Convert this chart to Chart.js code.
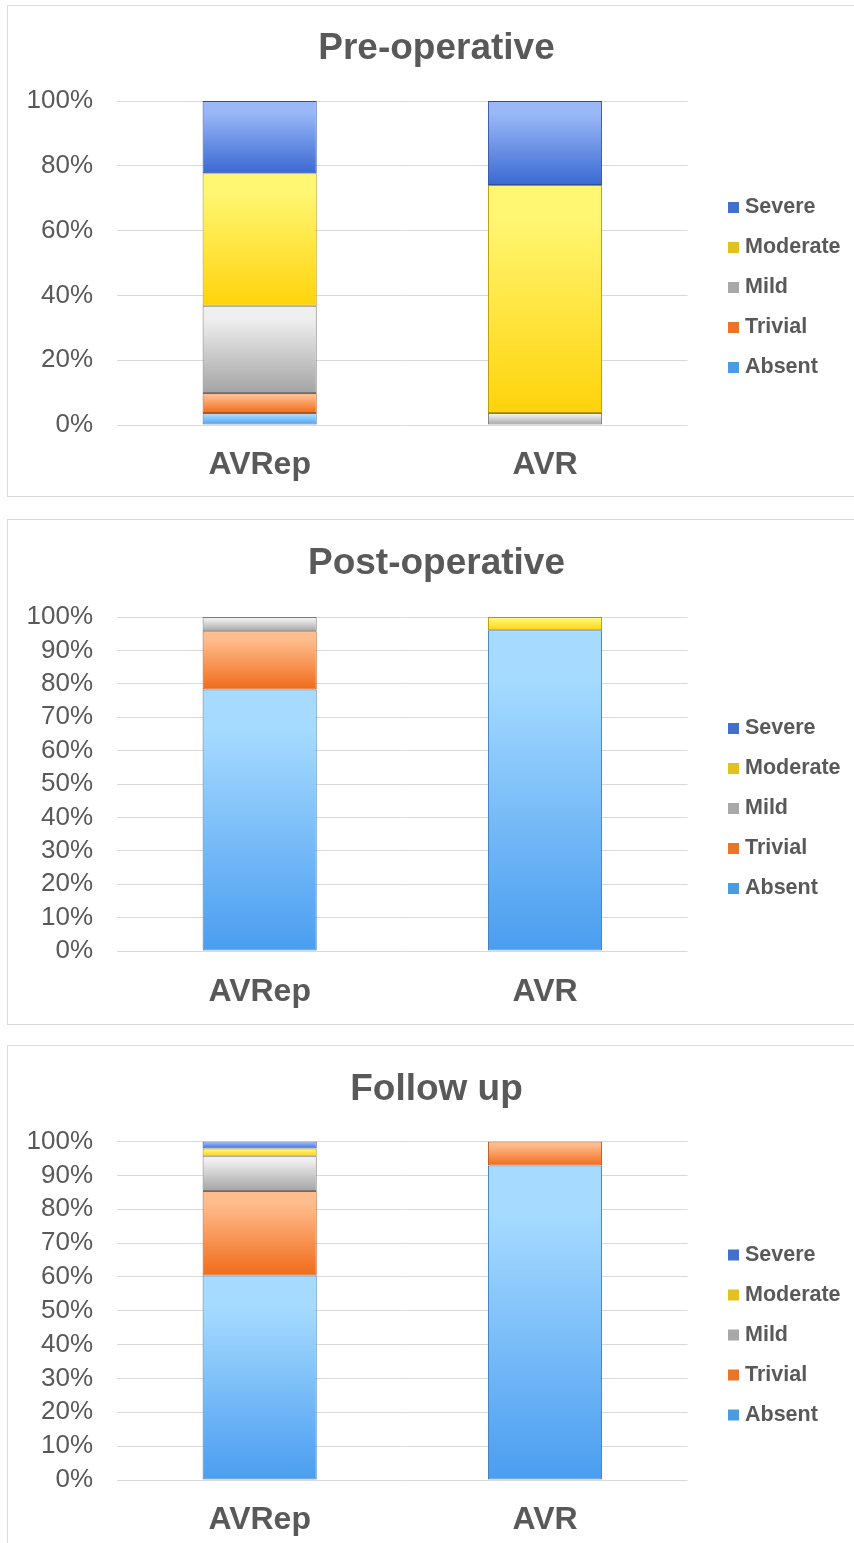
<!DOCTYPE html>
<html>
<head>
<meta charset="utf-8">
<title>AR grade before and after surgery</title>
<script src="https://cdn.jsdelivr.net/npm/chart.js"></script>
<style>
  body { margin: 0; background: #fff; width: 854px; height: 1543px; overflow: hidden; position: relative; }
  .panel { position: absolute; left: 7px; width: 870px; border: 1px solid #d9d9d9; background: #fff; }
  .panel canvas { position: absolute; left: -1px; top: -1px; }
</style>
</head>
<body>
<div class="panel" style="top:5px;height:490px"><canvas id="pre-chart" width="847" height="512"></canvas></div>
<div class="panel" style="top:519px;height:504px"><canvas id="post-chart" width="847" height="520"></canvas></div>
<div class="panel" style="top:1045px;height:518px"><canvas id="follow-chart" width="847" height="530"></canvas></div>
<script>
const categories = ["AVRep", "AVR"];
const grades = ["Absent", "Trivial", "Mild", "Moderate", "Severe"];

// pre-operative, % of patients [AVRep, AVR]
const preAbsent = [3.7, 0];
const preTrivial = [6.2, 0];
const preMild = [26.9, 3.7];
const preModerate = [40.9, 70.4];
const preSevere = [22.3, 25.9];

// post-operative
const postAbsent = [78.3, 96.0];
const postTrivial = [17.4, 0];
const postMild = [4.3, 0];
const postModerate = [0, 4.0];
const postSevere = [0, 0];

// follow up
const followAbsent = [60.4, 92.9];
const followTrivial = [25.0, 7.1];
const followMild = [10.4, 0];
const followModerate = [2.1, 0];
const followSevere = [2.1, 0];

const preTicks = [0, 20, 40, 60, 80, 100];
const postTicks = [0, 10, 20, 30, 40, 50, 60, 70, 80, 90, 100];
const followTicks = [0, 10, 20, 30, 40, 50, 60, 70, 80, 90, 100];

// colours per grade (Absent .. Severe)
const gradeTop = ["#a6dbff", "#ffbc8c", "#efefef", "#fff672", "#9ab8f8"];
const gradeBottom = ["#4a9df0", "#f06b1a", "#a4a4a4", "#ffd30a", "#3a69d2"];
const gradeEdge = ["#3b78ba", "#b5551a", "#7a7a7a", "#b39600", "#2d4fa0"];
const gradeKey = ["#4a9be0", "#ea742a", "#a8a8a8", "#e2c21e", "#4370cc"];

Chart.defaults.font.family = '"Liberation Sans", Arial, sans-serif';
Chart.defaults.color = "#595959";

// vertical gradient for every stacked segment, from the y scale
function shade(i) {
  return function (ctx) {
    const chart = ctx.chart;
    const y = chart.scales.y;
    if (ctx.type !== "data" || !y) return gradeBottom[i];
    let start = 0;
    for (let k = 0; k < ctx.datasetIndex; k++) start += chart.data.datasets[k].data[ctx.dataIndex];
    const end = start + ctx.raw;
    const y0 = y.getPixelForValue(start);
    const y1 = y.getPixelForValue(end);
    if (!isFinite(y0) || !isFinite(y1) || Math.abs(y0 - y1) < 0.5) return gradeBottom[i];
    const g = chart.ctx.createLinearGradient(0, y1, 0, y0);
    g.addColorStop(0, gradeTop[i]);
    g.addColorStop(0.15, gradeTop[i]);
    g.addColorStop(1, gradeBottom[i]);
    return g;
  };
}

// legend sits lower and further right than chart.js puts it, title a bit right
const boxShift = {
  id: "boxShift",
  afterLayout(chart, args, opts) {
    const lg = chart.legend;
    if (lg) {
      const dx = opts.boxX - (lg.left + lg.options.labels.padding);
      lg.left += dx; lg.right += dx;
      lg.top += opts.dy; lg.bottom += opts.dy;
    }
    const t = chart.titleBlock;
    if (t) {
      const tx = opts.titleX - (t.left + t.right) / 2;
      t.left += tx; t.right += tx;
    }
  }
};

function makeChart(id, title, series, ticks, f) {
  const canvas = document.getElementById(id);
  const xPad = f.label - f.bottom - 19.2 + 2;
  const tTop = f.title + 2 - 22.2;
  return new Chart(canvas, {
    type: "bar",
    data: {
      labels: categories,
      datasets: grades.map((g, i) => ({
        label: g,
        data: series[i],
        backgroundColor: shade(i),
        borderColor: gradeEdge[i],
        borderWidth: 1,
        borderSkipped: false,
        barPercentage: 0.4,
        categoryPercentage: 1
      }))
    },
    plugins: [boxShift],
    options: {
      responsive: false,
      animation: false,
      layout: { padding: { left: 0, right: 30, top: 0, bottom: canvas.height - f.bottom - 2 * xPad - 38.4 } },
      scales: {
        x: {
          stacked: true,
          grid: { display: false, drawTicks: false },
          border: { display: false },
          ticks: { padding: xPad, font: { size: 32, weight: "bold" }, color: "#595959" }
        },
        y: {
          stacked: true,
          min: 0,
          max: 100,
          afterBuildTicks: axis => { axis.ticks = ticks.map(v => ({ value: v })); },
          afterFit: axis => { axis.width = 110; },
          grid: { color: "#d9d9d9", lineWidth: 1, drawTicks: false },
          border: { display: false },
          ticks: { padding: 24, autoSkip: false, font: { size: 26 }, color: "#595959", callback: v => v + "%" }
        }
      },
      plugins: {
        title: {
          display: true,
          text: title,
          color: "#595959",
          font: { size: 37, weight: "bold" },
          padding: { top: tTop, bottom: f.top - tTop - 44.4 }
        },
        legend: {
          position: "right",
          reverse: true,
          labels: {
            boxWidth: 1.5,
            boxHeight: 1.5,
            padding: 18.5,
            font: { size: 21.5, weight: "bold" },
            color: "#595959",
            generateLabels: chart => chart.data.datasets.map((ds, i) => ({
              text: ds.label,
              fillStyle: gradeKey[i],
              strokeStyle: gradeKey[i],
              lineWidth: 9.5,
              lineJoin: "miter",
              fontColor: "#595959",
              hidden: false,
              datasetIndex: i
            }))
          }
        },
        tooltip: { enabled: false },
        boxShift: { boxX: 725.75, dy: 32.5, titleX: 429.5 }
      }
    }
  });
}

makeChart("pre-chart", "Pre-operative",
  [preAbsent, preTrivial, preMild, preModerate, preSevere], preTicks,
  { title: 42, top: 96, bottom: 420, label: 458 });

makeChart("post-chart", "Post-operative",
  [postAbsent, postTrivial, postMild, postModerate, postSevere], postTicks,
  { title: 43, top: 98, bottom: 432, label: 471 });

makeChart("follow-chart", "Follow up",
  [followAbsent, followTrivial, followMild, followModerate, followSevere], followTicks,
  { title: 43, top: 96.5, bottom: 435, label: 473 });
</script>
</body>
</html>
